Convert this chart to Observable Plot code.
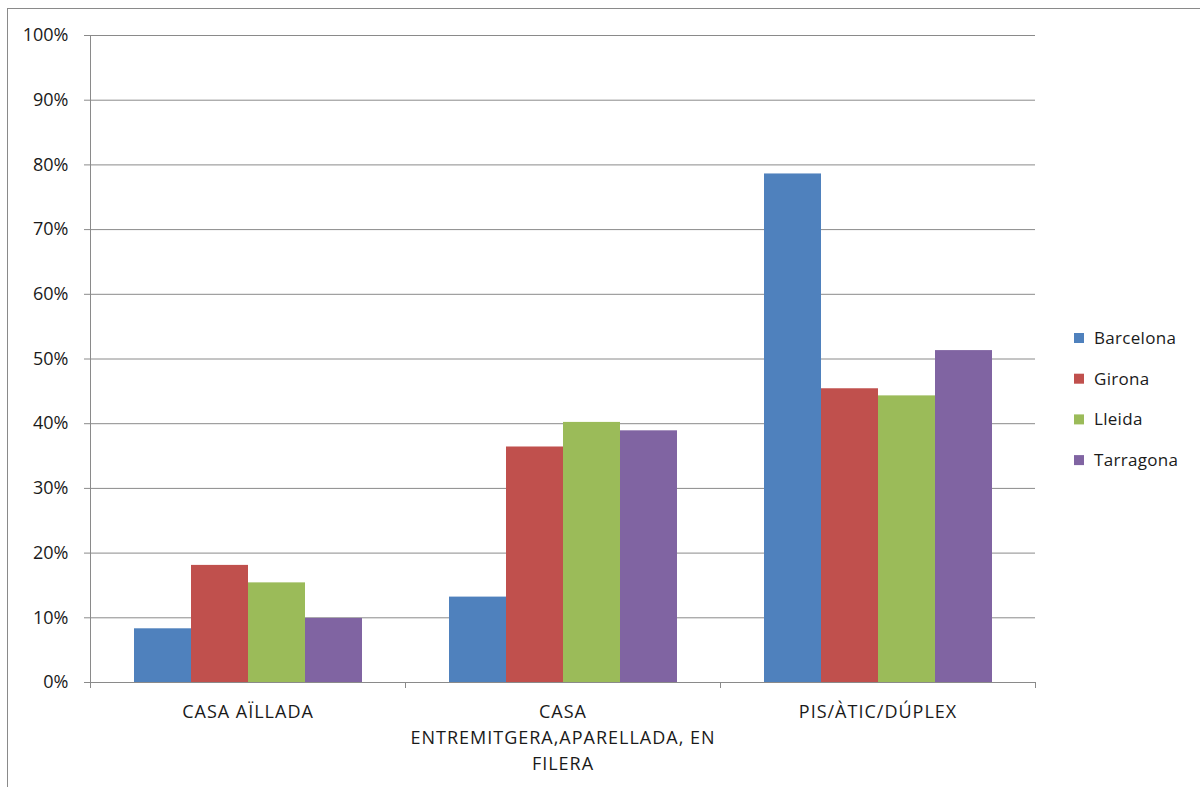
<!DOCTYPE html>
<html>
<head>
<meta charset="utf-8">
<script src="https://cdn.jsdelivr.net/npm/d3@7"></script>
<script src="https://cdn.jsdelivr.net/npm/@observablehq/plot@0.6"></script>
<style>
  html, body { margin: 0; padding: 0; background: #fff; }
  #chart { position: relative; width: 1200px; height: 787px; overflow: hidden; }
  g[aria-label="fx-axis tick label"] { letter-spacing: 1px; }
</style>
</head>
<body>
<div id="chart"></div>
<script>
const categories = ["CASA AÏLLADA", "CASA ENTREMITGERA,APARELLADA, EN FILERA", "PIS/ÀTIC/DÚPLEX"];
const categoryLabels = ["CASA AÏLLADA", "CASA\nENTREMITGERA,APARELLADA, EN\nFILERA", "PIS/ÀTIC/DÚPLEX"];
const cities = ["Barcelona", "Girona", "Lleida", "Tarragona"];
const barcelona = [8.3, 13.2, 78.6];
const girona = [18.1, 36.4, 45.4];
const lleida = [15.4, 40.2, 44.3];
const tarragona = [9.9, 38.9, 51.3];
const yTicks = [0, 10, 20, 30, 40, 50, 60, 70, 80, 90, 100];
const colors = ["#4F81BD", "#C0504D", "#9BBB59", "#8064A2"];

const series = [barcelona, girona, lleida, tarragona];
const data = [];
categories.forEach((c, i) => cities.forEach((city, j) => data.push({category: c, city, value: series[j][i]})));

const FONT = "'Open Sans', sans-serif";
const GRID = "#8a8a8a";

const chart = Plot.plot({
  width: 1200,
  height: 787,
  marginLeft: 90,
  marginRight: 165,
  marginTop: 35,
  marginBottom: 105,
  style: {fontFamily: FONT, fontSize: "18px", color: "#1a1a1a", background: "transparent"},
  fx: {domain: categories, padding: 0, label: null, axis: null},
  x: {domain: cities, paddingInner: 0, paddingOuter: 0.75, axis: null},
  y: {domain: [0, 100], label: null},
  color: {domain: cities, range: colors},
  marks: [
    Plot.gridY(yTicks, {stroke: GRID, strokeOpacity: 1, strokeWidth: 1}),
    Plot.barY(data, {fx: "category", x: "city", y: "value", fill: "city", inset: 0}),
    Plot.ruleY([0], {stroke: GRID, strokeWidth: 1}),
    Plot.axisY(yTicks, {tickSize: 6, tickPadding: 16, tickFormat: d => d + "%", label: null, stroke: GRID,
      fontSize: 18}),
    Plot.axisFx({anchor: "bottom", tickSize: 0, tickPadding: 17, lineHeight: 1.44, fontSize: 18,
      tickFormat: c => categoryLabels[categories.indexOf(c)], label: null})
  ]
});

document.getElementById("chart").appendChild(chart);

// frame, axis line and category boundary ticks, positioned via the chart's own scales
const svg = d3.select(chart);
svg.selectAll('g[aria-label="fx-axis tick label"]').attr("letter-spacing", 1);
const fx = chart.scale("fx");
const y = chart.scale("y");
const y0 = y.apply(0), y100 = y.apply(100);
svg.insert("rect", ":first-child")
  .attr("x", 7.5).attr("y", 8.5).attr("width", 1400).attr("height", 1000)
  .attr("fill", "none").attr("stroke", GRID);
const edges = categories.map(c => fx.apply(c)).concat([fx.apply(categories[categories.length - 1]) + fx.bandwidth]);
svg.append("line").attr("x1", edges[0] + 0.5).attr("x2", edges[0] + 0.5).attr("y1", y100).attr("y2", y0 + 6)
  .attr("stroke", GRID);
edges.slice(1).forEach(e => {
  svg.append("line").attr("x1", Math.round(e) + 0.5).attr("x2", Math.round(e) + 0.5)
    .attr("y1", y0).attr("y2", y0 + 6).attr("stroke", GRID);
});

// legend
const color = chart.scale("color");
const lg = svg.append("g").attr("font-family", FONT).attr("font-size", 17).attr("fill", "#1a1a1a")
  .attr("text-anchor", "start").attr("letter-spacing", 0.3);
cities.forEach((city, i) => {
  const cy = 338 + i * 40.7;
  lg.append("rect").attr("x", 1074).attr("y", cy - 5).attr("width", 10).attr("height", 10).attr("fill", color.apply(city));
  lg.append("text").attr("x", 1094).attr("y", cy).attr("dy", "0.35em").text(city);
});
</script>
</body>
</html>
